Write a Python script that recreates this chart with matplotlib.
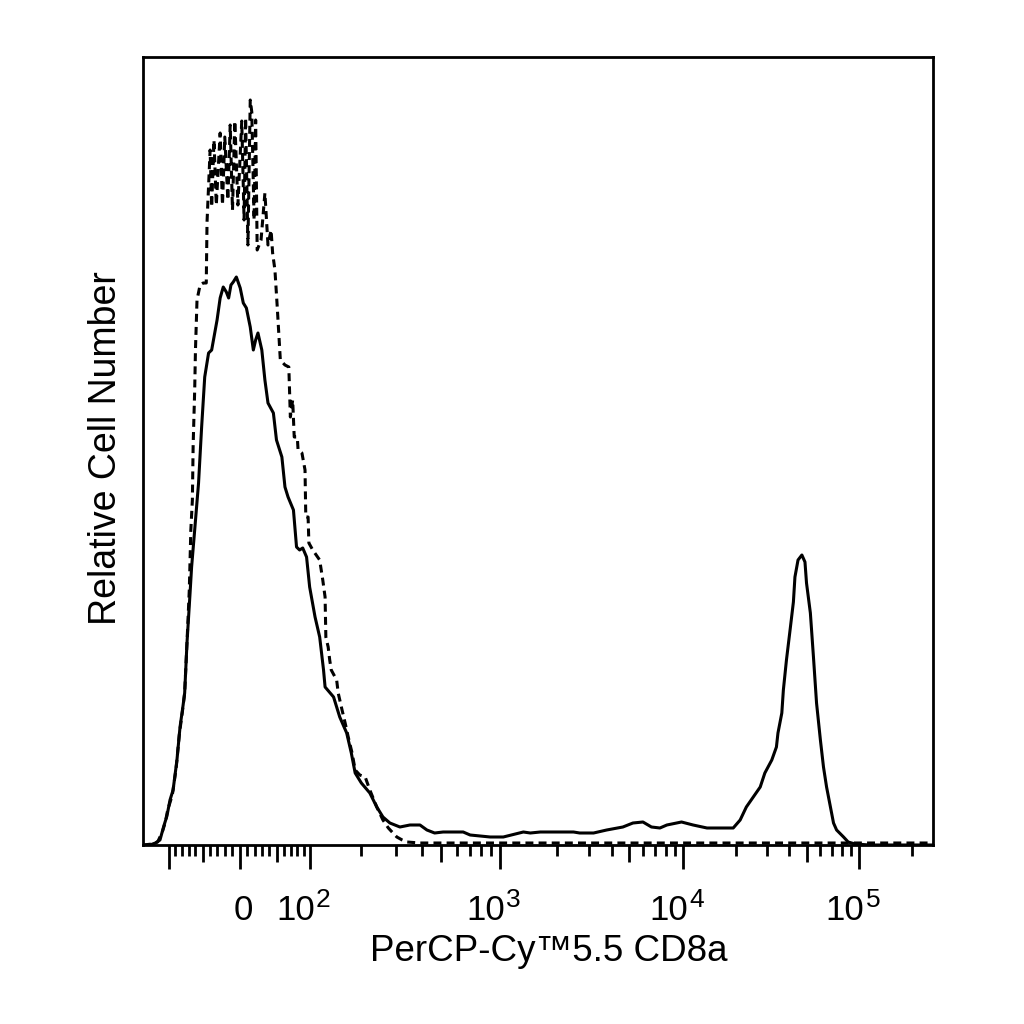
import numpy as np
import matplotlib.pyplot as plt
import matplotlib.transforms as mtransforms

plt.rcParams['font.family'] = ['Liberation Sans', 'DejaVu Sans']

# logicle display (top of scale, decades, linear width)
T, M, W = 262144, 4.5, 0.55
NCH = 1024

# histogram traces: display channel (0-1024) and counts
solid_ch = [0, 9, 16, 22, 27, 31, 35, 39, 44, 48,
            52, 54, 57, 61, 63, 67, 72, 76, 80, 85,
            89, 96, 100, 104, 108, 111, 114, 117, 121, 126,
            130, 134, 139, 143, 146, 149, 154, 158, 162, 169,
            173, 180, 184, 188, 195, 199, 203, 207, 212, 216,
            223, 229, 234, 236, 247, 255, 264, 270, 275, 283,
            294, 303, 311, 320, 333, 346, 359, 368, 378, 389,
            415, 424, 450, 467, 493, 502, 515, 558, 566, 584,
            601, 622, 635, 648, 659, 670, 679, 698, 713, 731,
            765, 774, 782, 791, 800, 806, 815, 821, 823, 828,
            830, 834, 839, 843, 845, 849, 854, 858, 860, 865,
            869, 873, 878, 882, 886, 891, 895, 899, 908, 914,
            923, 942, 1024]
solid_n = [0, 0, 1, 2.5, 9.5, 14.5, 22.5, 27.5, 42.5, 59,
           70, 76, 101, 126, 139, 157.5, 181, 209, 234, 246,
           247.5, 262.5, 273.5, 279, 276.5, 273.5, 280, 281.5, 284, 278.5,
           271, 268.5, 259, 247.5, 252.5, 256, 247.5, 232.5, 221, 216,
           202.5, 194, 179, 174, 167.5, 149, 147.5, 148.5, 144, 129,
           114, 104, 87.5, 79, 74, 64, 56, 46, 36, 31,
           26, 19, 14, 11, 9, 10, 10, 7.5, 6, 6.5,
           6.5, 5, 4, 4, 6.5, 6, 6.5, 6.5, 6, 6,
           7.5, 9, 11, 11.5, 9, 8.5, 10, 11.5, 10, 8.5,
           8.5, 12.5, 19, 24, 29, 36, 42.5, 49, 56, 66,
           77.5, 92.5, 108.5, 121.5, 134, 142.5, 145, 141.5, 131, 116,
           94, 71, 52.5, 39, 29, 19, 11, 7.5, 4, 1.5,
           0.5, 0, 0]

dash_ch = [0, 12, 19, 25, 29, 32, 38, 43, 47, 51,
           54, 57, 60, 61, 62, 64, 65, 67, 68, 70,
           74, 78, 82, 83, 87, 89, 92, 95, 100, 103,
           106, 110, 113, 116, 119, 123, 128, 131, 133, 136,
           139, 141, 144, 146, 148, 153, 158, 162, 166, 168,
           171, 174, 178, 184, 189, 191, 194, 196, 200, 201,
           206, 210, 211, 214, 215, 220, 229, 233, 236, 237,
           240, 242, 244, 251, 253, 258, 262, 266, 271, 275,
           281, 288, 294, 303, 311, 318, 324, 329, 336, 342,
           359, 1024]
dash_n = [0, 0.5, 1.5, 6.5, 11.5, 17.5, 25, 38.5, 55, 66.5,
          76, 101, 127.5, 142.5, 157.5, 172.5, 200, 227.5, 247.5, 272.5,
          280, 281, 281, 311.5, 347.5, 319, 352.5, 320, 356, 320,
          354, 322.5, 360, 317.5, 362, 320, 362, 312.5, 363.5, 300,
          372.5, 366.5, 312.5, 362.5, 297.5, 302.5, 326, 300, 307.5, 296,
          287.5, 269, 242.5, 240, 239, 214, 222.5, 204, 204, 197.5,
          196, 187.5, 164, 164, 151, 147.5, 142.5, 132.5, 124, 104,
          99, 92.5, 87.5, 82.5, 76, 67.5, 61, 54, 46, 37.5,
          35, 34, 27.5, 19, 12.5, 8.5, 6, 4, 2.5, 1.5,
          1, 1]

major_vals = [-100, 0, 100, 1e3, 1e4, 1e5]
major_base = ['', '0', '10', '10', '10', '10']
major_exp = ['', '', '2', '3', '4', '5']
mid_vals = [-50, 50, 500, 5e3, 5e4]
minor_vals = ([-10 * k for k in range(1, 10) if k != 5]
              + [10 * k for k in range(1, 10) if k != 5]
              + [k * 10 ** e for e in (2, 3, 4) for k in range(2, 10) if k != 5]
              + [2e5])


def solve_p(w):
    lo, hi = 1.0001, 100.0
    for _ in range(200):
        mid = (lo + hi) / 2
        if 2 * mid * np.log10(mid) / (mid + 1) < w:
            lo = mid
        else:
            hi = mid
    return (lo + hi) / 2


p = solve_p(W)


def logicle_inv(d):
    d = np.asarray(d, dtype=float)
    y = np.abs(d - W)
    s = T * 10 ** (-(M - W)) * (10 ** y - p ** 2 * 10 ** (-y / p) + p ** 2 - 1)
    return np.where(d >= W, s, -s)


grid_d = np.linspace(0, M, 40001)
grid_x = logicle_inv(grid_d)


def logicle_fwd(x):
    return np.interp(x, grid_x, grid_d)


def ch2val(ch):
    return logicle_inv(np.asarray(ch, dtype=float) * M / NCH)


fig = plt.figure(figsize=(10.24, 10.24), dpi=100)
ax = fig.add_axes([143 / 1024, 1 - 845 / 1024, 790 / 1024, 788 / 1024])
ax.set_xscale('function', functions=(logicle_fwd, logicle_inv))

ax.plot(ch2val(dash_ch), dash_n, color='black', lw=2.2, dashes=(2.6, 1.7))
ax.plot(ch2val(solid_ch), solid_n, color='black', lw=2.2)

ax.set_xlim(float(logicle_inv(0.0)), T)
ax.set_ylim(0, 394)

for s in ax.spines.values():
    s.set_linewidth(2.0)

ax.set_yticks([])
ax.set_xticks(major_vals + mid_vals)
ax.set_xticklabels([])
ax.set_xticks(minor_vals, minor=True)
ax.tick_params(axis='x', which='major', direction='out', length=17, width=2.0)
ax.tick_params(axis='x', which='minor', direction='out', length=8, width=2.0)
for t, v in zip(ax.xaxis.get_major_ticks(), major_vals + mid_vals):
    if v in mid_vals:
        t.tick1line.set_markersize(12)

# tick labels: "10" ends near the tick, exponent raised beside it
trans = mtransforms.blended_transform_factory(ax.transData, fig.transFigure)
y_base = 1 - 920 / 1024
for v, b, e in zip(major_vals, major_base, major_exp):
    if not b:
        continue
    if not e:
        ax.text(v, y_base, b, ha='center', va='baseline', fontsize=25,
                transform=mtransforms.offset_copy(trans, fig=fig, x=4, y=0, units='dots'))
        continue
    ax.text(v, y_base, b, ha='right', va='baseline', fontsize=25,
            transform=mtransforms.offset_copy(trans, fig=fig, x=5, y=0, units='dots'))
    ax.text(v, y_base, e, ha='left', va='baseline', fontsize=19,
            transform=mtransforms.offset_copy(trans, fig=fig, x=6, y=13, units='dots'))

fig.text(549 / 1024, 1 - 961 / 1024, 'PerCP-Cy™5.5 CD8a', ha='center', va='baseline',
         fontsize=26.5)
fig.text(106 / 1024, 1 - 448 / 1024, 'Relative Cell Number', rotation=90,
         ha='center', va='center', fontsize=27)

fig.savefig('out.png', dpi=100)
